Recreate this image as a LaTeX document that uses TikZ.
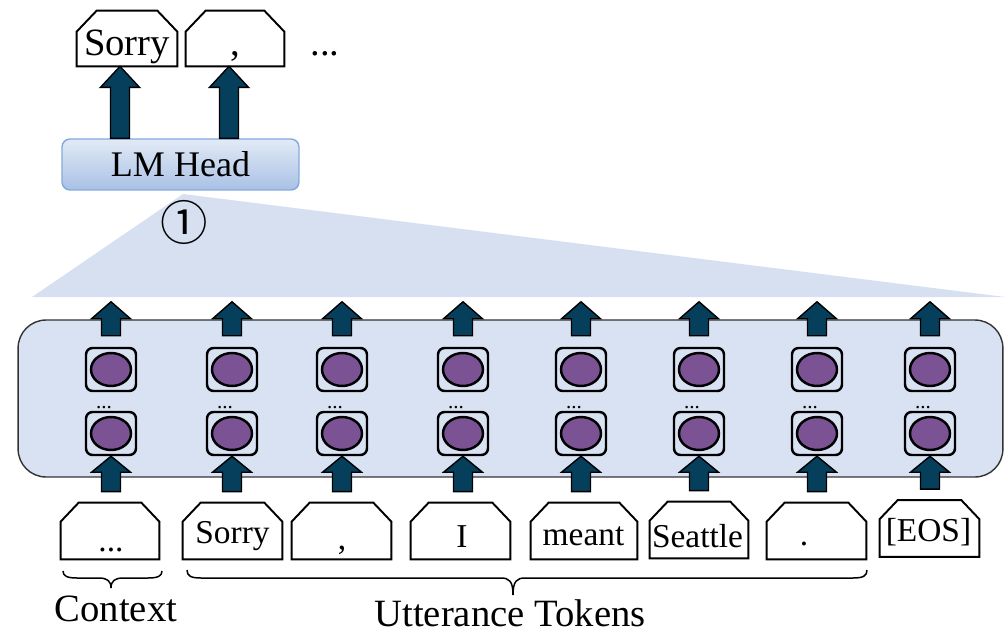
\documentclass[tikz,border=0pt]{standalone}
\usepackage{fontspec}
\setmainfont{Liberation Serif}
\newfontfamily\circfont{Noto Sans CJK SC}
\usetikzlibrary{shapes.geometric,calc}

\definecolor{panelblue}{HTML}{D9E2F3}
\definecolor{fanblue}{HTML}{D7E0F1}
\definecolor{cellpurple}{HTML}{7B5294}
\definecolor{arrowteal}{HTML}{063F5C}
\definecolor{headtop}{HTML}{E2EAF6}
\definecolor{headbot}{HTML}{A9C1E5}
\definecolor{headedge}{HTML}{84A9DC}

\tikzset{
  panel/.style={draw=black!80, line width=0.8pt, fill=panelblue, rounded corners=0.56cm,
    minimum width=19.7cm, minimum height=3.14cm, inner sep=0},
  headbox/.style={draw=headedge, line width=0.8pt, rounded corners=0.16cm,
    top color=headtop, bottom color=headbot, minimum width=4.74cm, minimum height=1.02cm,
    inner sep=0, font=\fontsize{20.5}{20.5}\selectfont},
  cellbox/.style={draw, line width=1.4pt, rounded corners=0.13cm,
    minimum width=1cm, minimum height=0.86cm, inner sep=0},
  unit/.style={ellipse, draw, line width=1.4pt, fill=cellpurple,
    minimum width=0.8cm, minimum height=0.66cm, inner sep=0},
  tokframe/.style={minimum height=1.12cm, inner sep=0},
  tokline/.style={line width=1.1pt, fill=white, line join=miter},
  toktext/.style={anchor=base, inner sep=0, font=\fontsize{19}{19}\selectfont},
  bigtext/.style={anchor=base, inner sep=0, font=\fontsize{22}{22}\selectfont},
  celldots/.style={anchor=base, inner sep=0, font=\fontsize{12}{12}\selectfont},
  blockarrow/.style={fill=arrowteal, draw=black, line width=0.8pt, line join=miter},
  bracestyle/.style={line width=0.85pt},
}

% upward block arrow: base point, tip point, head length
\newcommand\uparrowblock[3]{%
  \draw[blockarrow] ($(#1)+(-9.5,0)$) -- ($(#2)+(-9.5,#3)$) -- ($(#2)+(-19.5,#3)$)
    -- (#2) -- ($(#2)+(19.5,#3)$) -- ($(#2)+(9.5,#3)$) -- ($(#1)+(9.5,0)$) -- cycle;}

% token card outline with cut top corners: node name, cut x, cut y
\newcommand\tokoutline[3]{%
  \draw[tokline] (#1.south west) -- ($(#1.north west)+(0,#3)$) -- ($(#1.north west)+(#2,0)$)
    -- ($(#1.north east)+(-#2,0)$) -- ($(#1.north east)+(0,#3)$) -- (#1.south east) -- cycle;}

% curly brace opening upwards: left x, tip x, right x, end y, line y, tip y
\newcommand\curlybrace[6]{%
  \draw[bracestyle] (#1,#4) .. controls (#1,{#5-2}) and ({#1+4},#5) .. ({#1+14},#5)
    -- ({#2-12},#5) .. controls ({#2-4},#5) and (#2,{#5+3}) .. (#2,#6)
    .. controls (#2,{#5+3}) and ({#2+4},#5) .. ({#2+12},#5)
    -- ({#3-14},#5) .. controls ({#3-4},#5) and (#3,{#5-2}) .. (#3,#4);}

\begin{document}
\begin{tikzpicture}[x=0.02cm, y=-0.02cm]
\useasboundingbox (0,0) rectangle (1005,632);

% fan from the head down to the encoder stack
\fill[fanblue] (32,297) -- (183,194) -- (1005,297) -- cycle;

% encoder stack
\node[panel] (enc) at (510.5,398.5) {};

% language model head
\node[headbox] (head) at (180.5,164.5) {\raisebox{-2pt}{LM Head}};
\node[inner sep=0, font=\circfont\fontsize{27}{27}\selectfont] (step) at (184,222) {①};

% hidden units per position
\foreach \i/\x in {1/111,2/232,3/342,4/463,5/581,6/699,7/817,8/930}{
  \node[cellbox] (u\i) at (\x,369.5) {};
  \node[unit] (ue\i) at (u\i) {};
  \node[cellbox] (l\i) at (\x,433.5) {};
  \node[unit] (le\i) at (l\i) {};
  \node[celldots] (d\i) at (\x-7,408) {...};
  \coordinate (ub\i) at ($(u\i.north)+(0,-11)$);
  \coordinate (ut\i) at ($(u\i.north)+(0,-45)$);
  \uparrowblock{ub\i}{ut\i}{17}
}

% input tokens
\foreach \i/\x/\y/\w in {1/110/531/98, 2/232.5/531/99, 3/341.5/531/99, 4/460.5/531/99,
    5/584/531/106, 6/699/530/98, 7/816.5/531/99, 8/929.5/528.5/99}{
  \node[tokframe, minimum width={\w*0.02cm}] (t\i) at (\x,\y) {};
  \tokoutline{t\i}{18}{19}
  \coordinate (tb\i) at ($(l\i.south |- t\i.north)+(0,-11)$);
  \uparrowblock{tb\i}{l\i.south}{16}
}
\node[toktext] (x1) at (111,551) {...};
\node[toktext] (x2) at (232.5,543) {Sorry};
\node[toktext] (x3) at (342,549) {,};
\node[toktext] (x4) at (462,547) {I};
\node[toktext] (x5) at (583.5,545) {meant};
\node[toktext] (x6) at (697.5,547) {Seattle};
\node[toktext] (x7) at (804,545) {.};
\node[toktext] (x8) at (928.5,541) {[EOS]};

% predicted tokens
\node[tokframe, minimum width=2cm, minimum height=1.1cm] (o1) at (127,38.5) {};
\tokoutline{o1}{20}{21}
\node[tokframe, minimum width=1.96cm, minimum height=1.1cm] (o2) at (235,38.5) {};
\tokoutline{o2}{20}{21}
\node[bigtext] (ox1) at (127,55) {Sorry};
\node[bigtext] (ox2) at (235,55) {,};
\node[bigtext] (more) at (325,55) {...};

\coordinate (ht1) at ($(o1.south)+(-7,0)$);
\coordinate (hb1) at (ht1 |- head.north);
\uparrowblock{hb1}{ht1}{21}
\coordinate (ht2) at ($(o2.south)+(-6,0)$);
\coordinate (hb2) at (ht2 |- head.north);
\uparrowblock{hb2}{ht2}{21}

% grouping braces
\curlybrace{63}{111}{162}{571}{578}{588}
\curlybrace{187}{513}{867}{570}{578}{595}
\node[bigtext] (ctx) at (116,621) {Context};
\node[bigtext] (utt) at (510,626) {Utterance Tokens};
\end{tikzpicture}
\end{document}
